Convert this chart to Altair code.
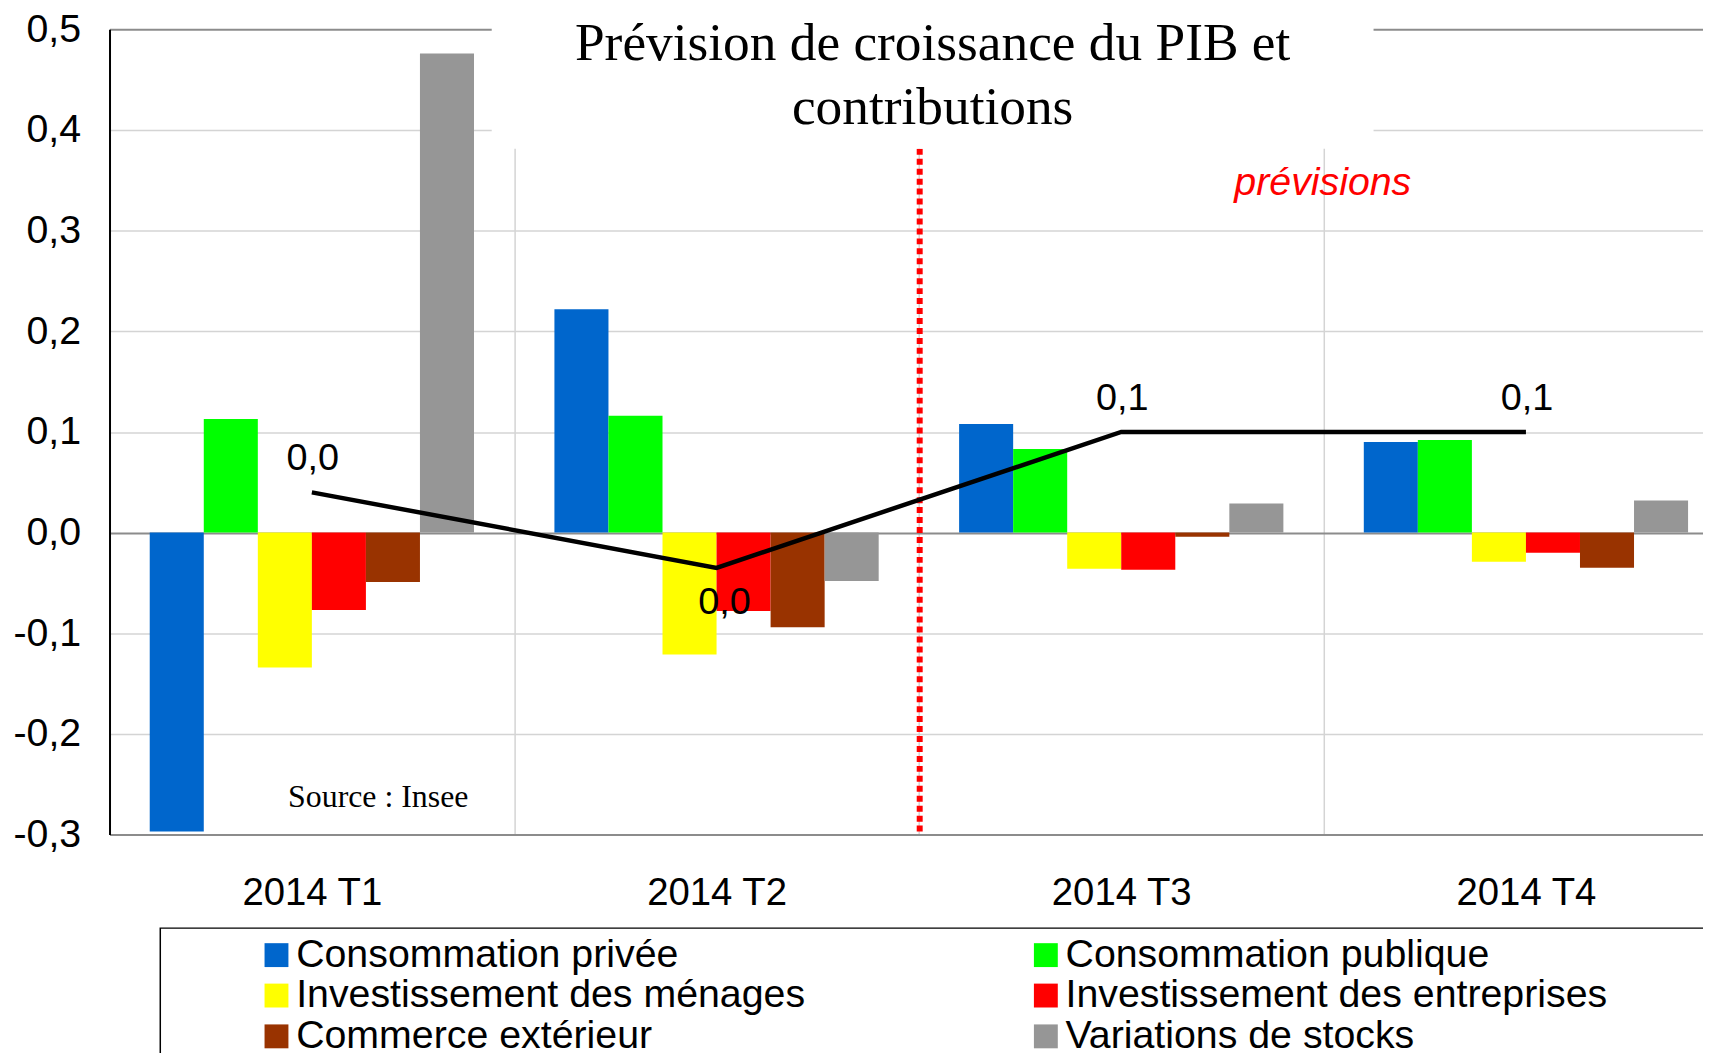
import altair as alt
import pandas as pd

# ---------------- data ----------------
quarters = ["2014 T1", "2014 T2", "2014 T3", "2014 T4"]
series_names = [
    "Consommation privée",
    "Consommation publique",
    "Investissement des ménages",
    "Investissement des entreprises",
    "Commerce extérieur",
    "Variations de stocks",
]
series_colors = ["#0066CC", "#00FF00", "#FFFF00", "#FF0000", "#993300", "#969696"]

consommation_privee = [-0.297, 0.222, 0.108, 0.090]
consommation_publique = [0.113, 0.116, 0.083, 0.092]
investissement_menages = [-0.134, -0.121, -0.036, -0.029]
investissement_entreprises = [-0.077, -0.078, -0.037, -0.020]
commerce_exterieur = [-0.049, -0.094, -0.004, -0.035]
variations_stocks = [0.476, -0.048, 0.029, 0.032]

pib = [0.040, -0.035, 0.100, 0.100]
pib_labels = ["0,0", "0,0", "0,1", "0,1"]
pib_label_side = ["above", "below", "above", "above"]

y_ticks = [-0.3, -0.2, -0.1, 0.0, 0.1, 0.2, 0.3, 0.4, 0.5]

title_line1 = "Prévision de croissance du PIB et"
title_line2 = "contributions"
forecast_text = "prévisions"
source_text = "Source : Insee"

# legend is filled column by column: order entries so rows read pairwise
legend_order = [0, 2, 4, 1, 3, 5]

# ---------------- tables ----------------
all_series = [
    consommation_privee,
    consommation_publique,
    investissement_menages,
    investissement_entreprises,
    commerce_exterieur,
    variations_stocks,
]
rows = []
for name, vals in zip(series_names, all_series):
    for q, v in zip(quarters, vals):
        rows.append({"quarter": q, "series": name, "value": v})
bar_df = pd.DataFrame(rows)
pib_df = pd.DataFrame({"quarter": quarters, "pib": pib, "label": pib_labels, "side": pib_label_side})

legend_domain = [series_names[i] for i in legend_order]
legend_range = [series_colors[i] for i in legend_order]

# ---------------- layout ----------------
PAD_L, PAD_T = 102, 19
W, H = 1601, 809
PAD_B = 1053 - 8 - PAD_T - H
BAND = 406.6
SANS = "Liberation Sans"
SERIF = "Liberation Serif"

x_enc = alt.X(
    "quarter:N",
    sort=quarters,
    scale=alt.Scale(domain=quarters, range=[0, 4 * BAND], paddingInner=0, paddingOuter=0),
    axis=alt.Axis(
        title=None, labelAngle=0, labelFontSize=38.5, labelFont=SANS, labelColor="black",
        labelPadding=40, ticks=False, domainColor="#8c8c8c", domainWidth=2,
        grid=True, gridColor="#d4d4d4", gridWidth=1.5, tickBand="extent",
    ),
)
y_enc = alt.Y(
    "value:Q",
    scale=alt.Scale(domain=[-0.3, 0.5], nice=False),
    axis=alt.Axis(
        title=None, values=y_ticks,
        labelExpr="(datum.value < -0.0001 ? '-' : '') + replace(format(abs(datum.value), '.1f'), '.', ',')",
        labelFontSize=39.5, labelFont=SANS, labelColor="black", labelPadding=29,
        ticks=False, domainColor="black", domainWidth=2, grid=True,
        gridColor={"condition": {"test": "abs(datum.value - 0.5) < 0.001 || abs(datum.value) < 0.001", "value": "#8c8c8c"}, "value": "#d4d4d4"},
        gridWidth={"condition": {"test": "abs(datum.value - 0.5) < 0.001 || abs(datum.value) < 0.001", "value": 2}, "value": 1.5},
    ),
)

bars = alt.Chart(bar_df).mark_bar().encode(
    x=x_enc,
    xOffset=alt.XOffset(
        "series:N", sort=series_names,
        scale=alt.Scale(domain=series_names, paddingInner=0, paddingOuter=0.744),
    ),
    y=y_enc,
    color=alt.Color(
        "series:N",
        scale=alt.Scale(domain=legend_domain, range=legend_range),
        legend=alt.Legend(
            orient="none", legendX=148, legendY=910, columns=2, title=None,
            symbolType="square", symbolSize=576, symbolStrokeWidth=0, symbolOpacity=1,
            labelFontSize=39.5, labelFont=SANS, labelColor="black", labelLimit=0,
            labelOffset=0, columnPadding=221, rowPadding=0, padding=0,
        ),
    ),
)

line = alt.Chart(pib_df).mark_line(color="black", strokeWidth=4.5).encode(
    x=alt.X("quarter:N", sort=quarters),
    y=alt.Y("pib:Q"),
)

lab_above = alt.Chart(pib_df).transform_filter("datum.side == 'above'").mark_text(
    dy=-33, dx=1, fontSize=38, font=SANS, color="black", baseline="middle"
).encode(x=alt.X("quarter:N", sort=quarters), y=alt.Y("pib:Q"), text="label:N")

lab_below = alt.Chart(pib_df).transform_filter("datum.side == 'below'").mark_text(
    dy=35, dx=8, fontSize=38, font=SANS, color="black", baseline="middle"
).encode(x=alt.X("quarter:N", sort=quarters), y=alt.Y("pib:Q"), text="label:N")

deco = alt.Chart(pd.DataFrame({"d": [0]}))

red_rule = deco.mark_rule(color="#FF0000", strokeWidth=6, strokeDash=[6, 4]).encode(
    x=alt.value(814), y=alt.value(120), y2=alt.value(806)
)
title_box = deco.mark_rect(color="white").encode(
    x=alt.value(384), x2=alt.value(1270), y=alt.value(-19), y2=alt.value(120)
)
t1 = deco.mark_text(font=SERIF, fontSize=53.6, align="center", baseline="alphabetic", color="black").encode(
    x=alt.value(827), y=alt.value(31), text=alt.value(title_line1)
)
t2 = deco.mark_text(font=SERIF, fontSize=53.6, align="center", baseline="alphabetic", color="black").encode(
    x=alt.value(827), y=alt.value(95), text=alt.value(title_line2)
)
prev = deco.mark_text(font=SANS, fontSize=39.5, fontStyle="italic", align="center", baseline="alphabetic", color="#FF0000").encode(
    x=alt.value(1219), y=alt.value(166), text=alt.value(forecast_text)
)
src = deco.mark_text(font=SERIF, fontSize=32, align="center", baseline="alphabetic", color="black").encode(
    x=alt.value(270), y=alt.value(781), text=alt.value(source_text)
)
legend_box = deco.mark_rect(fill="white", stroke="black", strokeWidth=1.5).encode(
    x=alt.value(51), x2=alt.value(1604), y=alt.value(903), y2=alt.value(1100)
)

chart = alt.layer(
    bars, red_rule, line, lab_above, lab_below, title_box, t1, t2, prev, src, legend_box
).properties(
    width=W, height=H,
    padding={"left": PAD_L, "top": PAD_T, "right": 0, "bottom": PAD_B},
    autosize=alt.AutoSizeParams(type="none"),
    background="white",
).configure_view(stroke=None)

chart.save("out.html", embed_options={"renderer": "svg", "actions": False})
